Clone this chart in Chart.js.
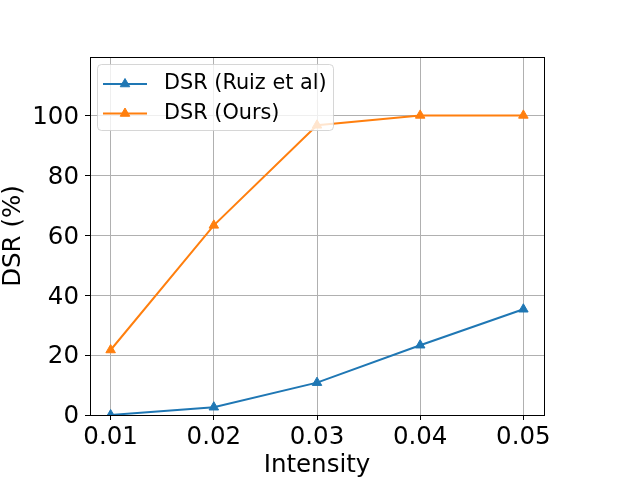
<!DOCTYPE html>
<html>
<head>
<meta charset="utf-8">
<script src="https://cdn.jsdelivr.net/npm/chart.js@4/dist/chart.umd.min.js"></script>
<style>
html,body{margin:0;padding:0;background:#fff;}
#wrap{width:640px;height:480px;}
</style>
</head>
<body>
<div id="wrap"><canvas id="c" width="640" height="480"></canvas></div>
<script>
const intensity = [0.01, 0.02, 0.03, 0.04, 0.05];
const dsrRuiz = [0, 2.6, 10.8, 23.3, 35.3];
const dsrOurs = [21.7, 63.3, 96.7, 100, 100];
const seriesLabels = ['DSR (Ruiz et al)', 'DSR (Ours)'];
const xTicks = [0.01, 0.02, 0.03, 0.04, 0.05];
const yTicks = [0, 20, 40, 60, 80, 100];
const xTitle = 'Intensity';
const yTitle = 'DSR (%)';

const FONT = 'DejaVu Sans';
const BLUE = '#1f77b4', ORANGE = '#ff7f0e';

const toPts = (ys) => intensity.map((x, i) => ({x: x, y: ys[i]}));

const frame = {
  id: 'frame',
  afterDatasetsDraw(chart) {
    const {ctx, chartArea: a} = chart;
    ctx.save();
    ctx.strokeStyle = '#000';
    ctx.lineWidth = 1;
    ctx.strokeRect(Math.round(a.left) + 0.5, Math.round(a.top) + 0.5, Math.round(a.right - a.left), Math.round(a.bottom - a.top));
    ctx.restore();
  }
};

const mplLegend = {
  id: 'mplLegend',
  afterDraw(chart) {
    const {ctx} = chart;
    const x0 = 97, y0 = 64, w = 236, h = 66, r = 4;
    ctx.save();
    ctx.beginPath();
    ctx.roundRect(x0 + 0.5, y0 + 0.5, w, h, r);
    ctx.fillStyle = 'rgba(255,255,255,0.8)';
    ctx.fill();
    ctx.strokeStyle = 'rgba(204,204,204,0.8)';
    ctx.lineWidth = 1;
    ctx.stroke();
    chart.data.datasets.forEach((ds, i) => {
      const cy = 84 + i * 29.5;
      ctx.strokeStyle = ds.borderColor;
      ctx.lineWidth = ds.borderWidth;
      ctx.beginPath();
      ctx.moveTo(103, cy);
      ctx.lineTo(147, cy);
      ctx.stroke();
      ctx.fillStyle = ds.pointBackgroundColor;
      ctx.strokeStyle = ds.pointBorderColor;
      ctx.lineWidth = 1;
      ctx.beginPath();
      const rr = ds.pointRadius;
      ctx.moveTo(125, cy - rr);
      ctx.lineTo(125 + rr * 0.866, cy + rr * 0.5);
      ctx.lineTo(125 - rr * 0.866, cy + rr * 0.5);
      ctx.closePath();
      ctx.fill();
      ctx.stroke();
      ctx.fillStyle = '#000';
      ctx.font = '20.8px "' + FONT + '"';
      ctx.textAlign = 'left';
      ctx.textBaseline = 'middle';
      ctx.fillText(ds.label, 164, cy);
    });
    ctx.restore();
  }
};

new Chart(document.getElementById('c'), {
  type: 'line',
  data: {
    datasets: [
      {label: seriesLabels[0], data: toPts(dsrRuiz), borderColor: BLUE, backgroundColor: BLUE,
       pointBackgroundColor: BLUE, pointBorderColor: BLUE, borderWidth: 2, pointStyle: 'triangle',
       pointRadius: 5.5, pointBorderWidth: 1, tension: 0},
      {label: seriesLabels[1], data: toPts(dsrOurs), borderColor: ORANGE, backgroundColor: ORANGE,
       pointBackgroundColor: ORANGE, pointBorderColor: ORANGE, borderWidth: 2, pointStyle: 'triangle',
       pointRadius: 5.5, pointBorderWidth: 1, tension: 0}
    ]
  },
  options: {
    responsive: false,
    animation: false,
    devicePixelRatio: 1,
    layout: {padding: {top: 57, right: 96, left: 0, bottom: 0}},
    plugins: {legend: {display: false}, tooltip: {enabled: false}},
    scales: {
      x: {
        type: 'linear', min: 0.008, max: 0.052,
        afterBuildTicks(s) { s.ticks = xTicks.map(v => ({value: v})); },
        afterFit(s) { s.height = 65; },
        ticks: {font: {family: FONT, size: 24.5}, color: '#000', padding: 3,
                callback: (v) => v.toFixed(2), maxRotation: 0, autoSkip: false},
        grid: {color: '#b0b0b0', lineWidth: 1, tickLength: 5, tickColor: '#000', drawTicks: true},
        border: {display: true, color: '#000', width: 1},
        title: {display: true, text: xTitle, font: {family: FONT, size: 24.5}, color: '#000',
                padding: {top: 0, bottom: 0}}
      },
      y: {
        type: 'linear', min: 0, max: 119.5,
        afterBuildTicks(s) { s.ticks = yTicks.map(v => ({value: v})); },
        afterFit(s) { s.width = 90; },
        ticks: {font: {family: FONT, size: 24.5}, color: '#000', padding: 6, autoSkip: false, labelOffset: 2},
        grid: {color: '#b0b0b0', lineWidth: 1, tickLength: 5, tickColor: '#000', drawTicks: true},
        border: {display: true, color: '#000', width: 1},
        title: {display: true, text: yTitle, font: {family: FONT, size: 24.5}, color: '#000',
                padding: {top: -1.5, bottom: 0}}
      }
    }
  },
  plugins: [frame, mplLegend]
});
</script>
</body>
</html>
